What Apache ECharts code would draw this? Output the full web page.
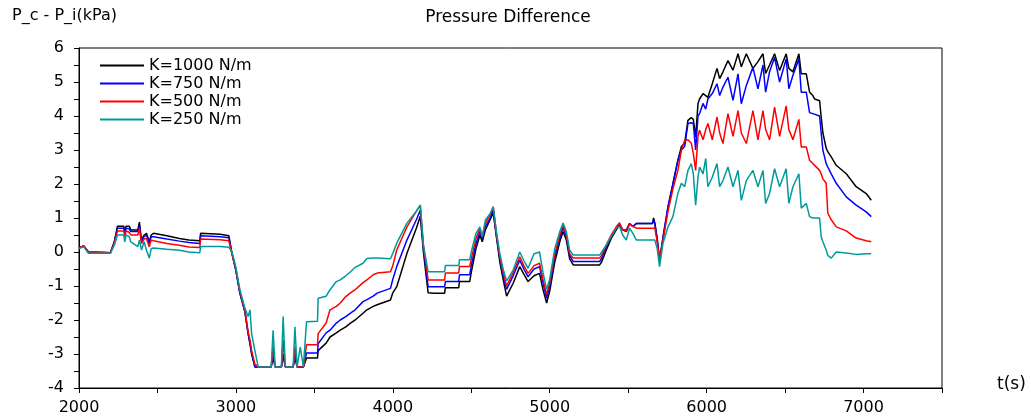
<!DOCTYPE html>
<html><head><meta charset="utf-8">
<script src="https://cdn.jsdelivr.net/npm/echarts@6/dist/echarts.min.js"></script>
<style>html,body{margin:0;padding:0;background:#fff}#c{width:1031px;height:419px}</style>
</head><body><div id="c"></div>
<script>
const T = [
 2000,2030,2060,2200,2225,2245,2285,2292,2300,2320,2330,2375,2385,2398,2415,2430,2448,2460,2475,2480,2560,2640,2700,2770,2775,2900,2955,
 2975,3000,3025,3057,3078,3090,3100,3121,3142,
 3225,3237,3250,3290,3301,3315,3365,3376,3390,3410,3430,
 3450,3520,3524,3575,3600,3640,3665,3700,3730,3760,3810,3835,3875,3900,3985,4000,4025,4090,4150,4175,4195,4225,
 4260,4330,4335,4420,4425,4490,
 4500,4530,4555,4570,4590,4620,4640,
 4660,4682,4703,4725,
 4767,4809,4835,4862,4900,4935,4957,4980,
 5000,5032,5064,5085,
 5106,5127,5150,5318,
 5330,5360,5392,5424,5445,5465,5488,5509,5530,5552,5655,5662,5670,
 5685,5700,
 5722,5754,5785,5817,5839,5860,5881,5902,5915,5930,5945,5955,5977,5994,6008,6036,6066,6083,6104,6136,6168,6200,6221,6253,6295,6327,6359,6376,6401,6433,6465,6507,6524,6550,6588,6603,6635,6656,
 6677,6688,6720,6730,6741,6762,6772,6794,6826,6890,6953,7017,7049
];
const K1000 = [
 0.12,0.18,0.0,-0.02,0.3,0.76,0.76,0.6,0.76,0.76,0.65,0.65,0.88,0.35,0.5,0.55,0.3,0.5,0.55,0.52,0.48,0.4,0.35,0.33,0.55,0.52,0.48,
 -0.05,-0.55,-1.2,-1.75,-2.4,-2.7,-3.0,-3.38,-3.38,
 -3.38,-3.1,-3.38,-3.38,-3.05,-3.38,-3.38,-3.1,-3.38,-3.38,-3.38,
 -3.12,-3.12,-2.9,-2.68,-2.5,-2.38,-2.3,-2.2,-2.09,-2.0,-1.8,-1.7,-1.6,-1.55,-1.41,-1.2,-1.02,-0.04,0.7,1.05,0.0,-1.2,
 -1.21,-1.21,-1.05,-1.05,-0.87,-0.87,
 -0.6,0.1,0.5,0.3,0.65,0.95,1.15,
 0.45,-0.3,-0.8,-1.3,
 -0.92,-0.43,-0.65,-0.87,-0.7,-0.63,-1.1,-1.5,
 -1.15,-0.3,0.3,0.6,
 0.35,-0.2,-0.38,-0.38,
 -0.3,0.05,0.4,0.65,0.8,0.65,0.6,0.84,0.75,0.84,0.84,1.0,0.84,
 0.4,-0.25,
 0.4,1.3,2.0,2.7,3.1,3.2,3.87,3.95,3.9,3.38,4.37,4.5,4.66,4.6,4.55,4.95,5.4,5.1,5.3,5.63,5.35,5.83,5.45,5.83,5.4,5.6,5.83,5.25,5.5,5.83,5.34,5.83,5.4,5.3,5.83,5.24,5.24,4.7,
 4.6,4.5,4.45,3.97,3.5,3.05,2.95,2.8,2.55,2.3,1.92,1.72,1.52
];
const K750 = [
 0.12,0.18,0.0,-0.02,0.28,0.7,0.7,0.55,0.7,0.68,0.6,0.6,0.78,0.32,0.45,0.5,0.25,0.45,0.45,0.42,0.38,0.32,0.28,0.25,0.48,0.45,0.42,
 -0.05,-0.55,-1.2,-1.75,-2.4,-2.7,-2.95,-3.38,-3.38,
 -3.38,-3.0,-3.38,-3.38,-3.0,-3.38,-3.38,-3.0,-3.38,-3.38,-3.38,
 -2.97,-2.97,-2.7,-2.38,-2.3,-2.09,-2.0,-1.9,-1.8,-1.7,-1.46,-1.4,-1.3,-1.21,-1.07,-0.8,-0.43,0.35,0.95,1.23,0.1,-1.02,
 -1.02,-1.02,-0.87,-0.87,-0.67,-0.67,
 -0.4,0.25,0.6,0.4,0.75,1.0,1.25,
 0.5,-0.2,-0.7,-1.1,
 -0.7,-0.24,-0.5,-0.73,-0.5,-0.43,-0.9,-1.36,
 -1.0,-0.15,0.4,0.72,
 0.45,-0.1,-0.28,-0.28,
 -0.2,0.15,0.45,0.7,0.8,0.65,0.65,0.84,0.75,0.84,0.84,0.95,0.84,
 0.35,-0.25,
 0.45,1.35,2.0,2.7,3.0,3.1,3.78,3.8,3.78,3.0,4.0,4.07,4.37,4.2,4.5,4.66,4.95,4.6,4.85,5.14,4.46,5.24,4.36,4.9,5.43,4.8,5.5,4.7,5.3,5.73,5.0,5.68,4.8,5.2,5.68,4.7,4.7,4.1,
 4.07,4.05,4.0,3.5,2.99,2.6,2.5,2.3,2.02,1.62,1.38,1.18,1.04
];
const K500 = [
 0.12,0.18,0.0,-0.02,0.25,0.62,0.62,0.45,0.62,0.58,0.5,0.5,0.7,0.25,0.38,0.4,0.15,0.35,0.33,0.3,0.25,0.2,0.15,0.13,0.38,0.36,0.33,
 -0.05,-0.5,-1.15,-1.7,-2.35,-2.6,-2.9,-3.3,-3.38,
 -3.38,-2.78,-3.38,-3.38,-2.6,-3.38,-3.38,-2.78,-3.38,-3.38,-3.38,
 -2.73,-2.73,-2.4,-2.09,-1.7,-1.6,-1.5,-1.31,-1.2,-1.11,-0.9,-0.82,-0.67,-0.62,-0.58,-0.4,0.06,0.74,1.2,1.38,0.2,-0.82,
 -0.82,-0.82,-0.62,-0.62,-0.43,-0.43,
 -0.2,0.4,0.7,0.45,0.85,1.1,1.33,
 0.55,-0.14,-0.6,-1.0,
 -0.6,-0.14,-0.4,-0.63,-0.4,-0.33,-0.8,-1.25,
 -0.9,-0.05,0.5,0.8,
 0.5,-0.05,-0.18,-0.18,
 -0.1,0.2,0.5,0.74,0.86,0.65,0.62,0.84,0.75,0.7,0.7,0.7,0.7,
 0.3,-0.2,
 0.35,1.2,1.85,2.4,3.0,3.28,3.3,3.2,2.9,2.4,3.4,3.58,3.3,3.6,3.78,3.3,3.97,3.5,3.19,4.07,3.4,4.16,3.5,3.19,4.16,3.3,4.16,3.6,3.3,4.26,3.4,4.3,3.6,3.3,3.9,3.09,3.09,2.7,
 2.6,2.55,2.4,2.3,2.15,2.02,1.14,0.95,0.74,0.62,0.41,0.33,0.3
];
const K250 = [
 0.1,0.15,-0.04,-0.04,0.2,0.5,0.5,0.3,0.5,0.45,0.3,0.16,0.35,0.06,0.3,0.05,-0.18,0.1,0.12,0.1,0.08,0.05,0.0,-0.02,0.16,0.16,0.14,
 0.0,-0.45,-1.1,-1.65,-1.9,-1.7,-2.4,-2.9,-3.38,
 -3.38,-2.3,-3.38,-3.38,-1.9,-3.38,-3.38,-2.2,-3.38,-2.8,-3.38,
 -2.05,-2.04,-1.36,-1.3,-1.11,-0.87,-0.82,-0.7,-0.58,-0.45,-0.33,-0.19,-0.18,-0.18,-0.2,-0.04,0.26,0.85,1.2,1.38,0.2,-0.58,
 -0.58,-0.58,-0.4,-0.4,-0.23,-0.23,
 0.0,0.55,0.74,0.45,0.94,1.13,1.33,
 0.6,-0.05,-0.5,-0.85,
 -0.53,0.0,-0.25,-0.48,-0.05,0.0,-0.6,-1.1,
 -0.8,0.1,0.6,0.85,
 0.6,0.05,-0.09,-0.09,
 -0.05,0.2,0.45,0.7,0.75,0.5,0.35,0.7,0.55,0.35,0.35,0.35,0.35,
 0.1,-0.43,
 0.26,0.74,1.04,1.73,2.02,1.92,2.4,2.6,2.3,1.38,2.2,2.5,2.3,2.75,1.92,2.2,2.6,1.92,2.1,2.5,1.92,2.4,1.52,2.1,2.4,1.92,2.4,1.43,1.72,2.45,1.92,2.45,1.43,1.92,2.3,1.29,1.43,1.04,
 1.0,1.0,1.0,0.45,0.3,0.06,-0.1,-0.18,0.0,-0.03,-0.07,-0.05,-0.05
];
const seriesNames = ['K=1000 N/m','K=750 N/m','K=500 N/m','K=250 N/m'];
const seriesColors = ['#000000','#0000ff','#ff0000','#009a9a'];
const seriesValues = [K1000, K750, K500, K250];
const titleText = 'Pressure Difference';
const yName = 'P_c - P_i(kPa)';
const xName = 't(s)';

const FONT = 'DejaVu Sans';
const chart = echarts.init(document.getElementById('c'), null, {renderer: 'canvas'});
const option = {
  animation: false,
  backgroundColor: '#fff',
  grid: {left: 79, right: 89, top: 48, bottom: 31, show: true, borderColor: '#000', borderWidth: 1, backgroundColor: 'transparent'},
  legend: {
    orient: 'vertical', left: 95, top: 52, itemWidth: 44, itemHeight: 10, itemGap: 1,
    icon: 'path://M0,0 L44,0 L44,2 L0,2 Z',
    data: seriesNames,
    textStyle: {fontFamily: FONT, fontSize: 16, lineHeight: 17, color: '#000'}
  },
  xAxis: {
    type: 'value', min: 2000, max: 7500, interval: 1000,
    axisLine: {onZero: false, lineStyle: {color: '#000', width: 1}},
    axisTick: {length: 5, lineStyle: {color: '#000'}},
    minorTick: {show: true, splitNumber: 2, length: 5, lineStyle: {color: '#000'}},
    splitLine: {show: false},
    axisLabel: {color: '#000', fontFamily: FONT, fontSize: 16, margin: 12, showMaxLabel: false, formatter: v => String(v)}
  },
  yAxis: {
    type: 'value', min: -4, max: 6, interval: 1,
    axisLine: {show: true, onZero: false, lineStyle: {color: '#000', width: 1}},
    axisTick: {show: true, length: 5, lineStyle: {color: '#000'}},
    minorTick: {show: true, splitNumber: 2, length: 5, lineStyle: {color: '#000'}},
    splitLine: {show: false},
    axisLabel: {color: '#000', fontFamily: FONT, fontSize: 16, margin: 15, formatter: v => String(v)}
  },
  graphic: [
    {type: 'text', left: 12, top: 8, style: {text: yName, fontFamily: FONT, fontSize: 16, fill: '#000'}},
    {type: 'text', x: 508, y: 18, style: {text: titleText, fontFamily: FONT, fontSize: 17, fill: '#000', textAlign: 'center', textVerticalAlign: 'middle'}},
    {type: 'text', x: 997, y: 385, style: {text: xName, fontFamily: FONT, fontSize: 17, fill: '#000', textVerticalAlign: 'middle'}}
  ],
  series: seriesNames.map((n, k) => ({
    name: n, type: 'line', showSymbol: false, symbol: 'none',
    data: T.map((t, i) => [t, seriesValues[k][i]]),
    lineStyle: {color: seriesColors[k], width: 1.5},
    itemStyle: {color: seriesColors[k]}
  }))
};
chart.setOption(option);
</script>
</body></html>
